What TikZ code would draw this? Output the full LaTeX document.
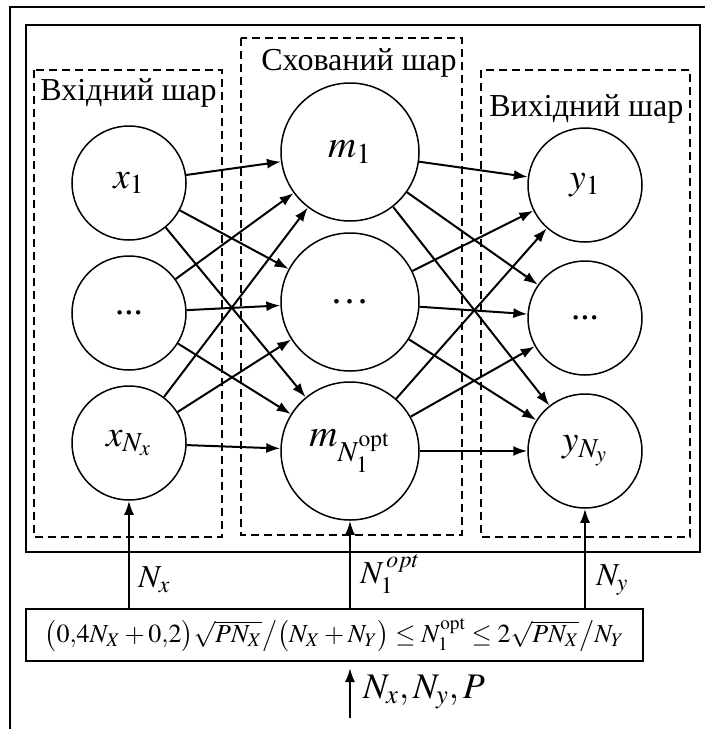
\documentclass[tikz,border=0pt]{standalone}
\usepackage{mathptmx}
\usepackage{fontspec}
\setmainfont{Liberation Serif}
\usetikzlibrary{arrows.meta}
\newcommand{\pdots}{...}

\begin{document}
\begin{tikzpicture}[x=0.5pt,y=-0.5pt]
    \tikzset{neuron/.style={circle, draw=black, line width=0.75pt, minimum size=57pt, inner sep=0pt, font=\fontsize{18.5}{20}\selectfont}}
    \tikzset{hidden/.style={neuron, minimum size=69pt, font=\fontsize{19.5}{21}\selectfont}}
    \tikzset{layerbox/.style={draw=black, line width=0.7pt, dash pattern=on 4pt off 2.5pt}}
    \tikzset{link/.style={line width=1pt, -{Latex[length=7pt,width=5pt]}}}
    \tikzset{caption/.style={font=\fontsize{16}{18}\selectfont}}

    \useasboundingbox (0,0) rectangle (705,729);

    % ── FRAMES ───────────────────────────────────────────
    \draw[line width=1pt] (10,729) -- (10,7) -- (705,7);
    \draw[line width=1pt] (26,25) rectangle (700,552);

    % ── LAYERS ───────────────────────────────────────────
    \draw[layerbox] (34,70) rectangle (222,537);
    \draw[layerbox] (241,38) rectangle (462,535);
    \draw[layerbox] (481,70) rectangle (690,537);
    \node[caption, anchor=west, inner sep=0pt] (capin) at (40,93) {Вхідний шар};
    \node[caption, anchor=west, inner sep=0pt] (caphid) at (261,63) {Схований шар};
    \node[caption, anchor=west, inner sep=0pt] (capout) at (489,109) {Вихідний шар};

    % вхідні нейрони
    \foreach \name/\yy/\lbl in {x1/183/$x_1$, x2/313/\pdots, x3/443/$x_{N_x}$} {
        \node[neuron] (\name) at (129,\yy) {\lbl};
    }

    % приховані нейрони
    \foreach \name/\yy/\lbl in {m1/152/$m_1$, m2/302/\ldots, m3/451/$m_{N_1^{\mathrm{opt}}}$} {
        \node[hidden] (\name) at (350,\yy) {\lbl};
    }

    % вихідні нейрони
    \foreach \name/\yy/\lbl in {y1/185/$y_1$, y2/318/\pdots, y3/451/$y_{N_y}$} {
        \node[neuron] (\name) at (585,\yy) {\lbl};
    }

    % зв'язки
    \foreach \a in {x1,x2,x3} {
        \foreach \b in {m1,m2,m3} {
            \draw[link] (\a) -- (\b);
        }
    }
    \foreach \a in {m1,m2,m3} {
        \foreach \b in {y1,y2,y3} {
            \draw[link] (\a) -- (\b);
        }
    }

    % ── FORMULA ──────────────────────────────────────────
    \node[draw, line width=1pt, minimum width=308.5pt, minimum height=26pt, inner sep=2pt,
          font=\fontsize{13}{15}\selectfont] (rule) at (334.5,635)
        {$\bigl(0{,}4N_X+0{,}2\bigr)\sqrt{PN_X}\big/\bigl(N_X+N_Y\bigr)\le N_1^{\mathrm{opt}}\le 2\sqrt{PN_X}\big/N_Y$};

    \draw[link] (x3 |- rule.north) -- (x3);
    \draw[link] (m3 |- rule.north) -- (m3);
    \draw[link] (y3 |- rule.north) -- (y3);
    \node[caption, anchor=west, inner sep=0pt] (nx) at (138,580) {$N_x$};
    \node[caption, anchor=west, inner sep=0pt] (nopt) at (360,574) {$N_1^{\,opt}$};
    \node[caption, anchor=west, inner sep=0pt] (ny) at (596,580) {$N_y$};

    % вхідні дані
    \coordinate (feed) at (350,718);
    \draw[link, shorten >=3pt] (feed) -- (feed |- rule.south);
    \node[anchor=west, font=\fontsize{18}{20}\selectfont] (params) at (356,692) {$N_x,N_y,P$};

\end{tikzpicture}
\end{document}
